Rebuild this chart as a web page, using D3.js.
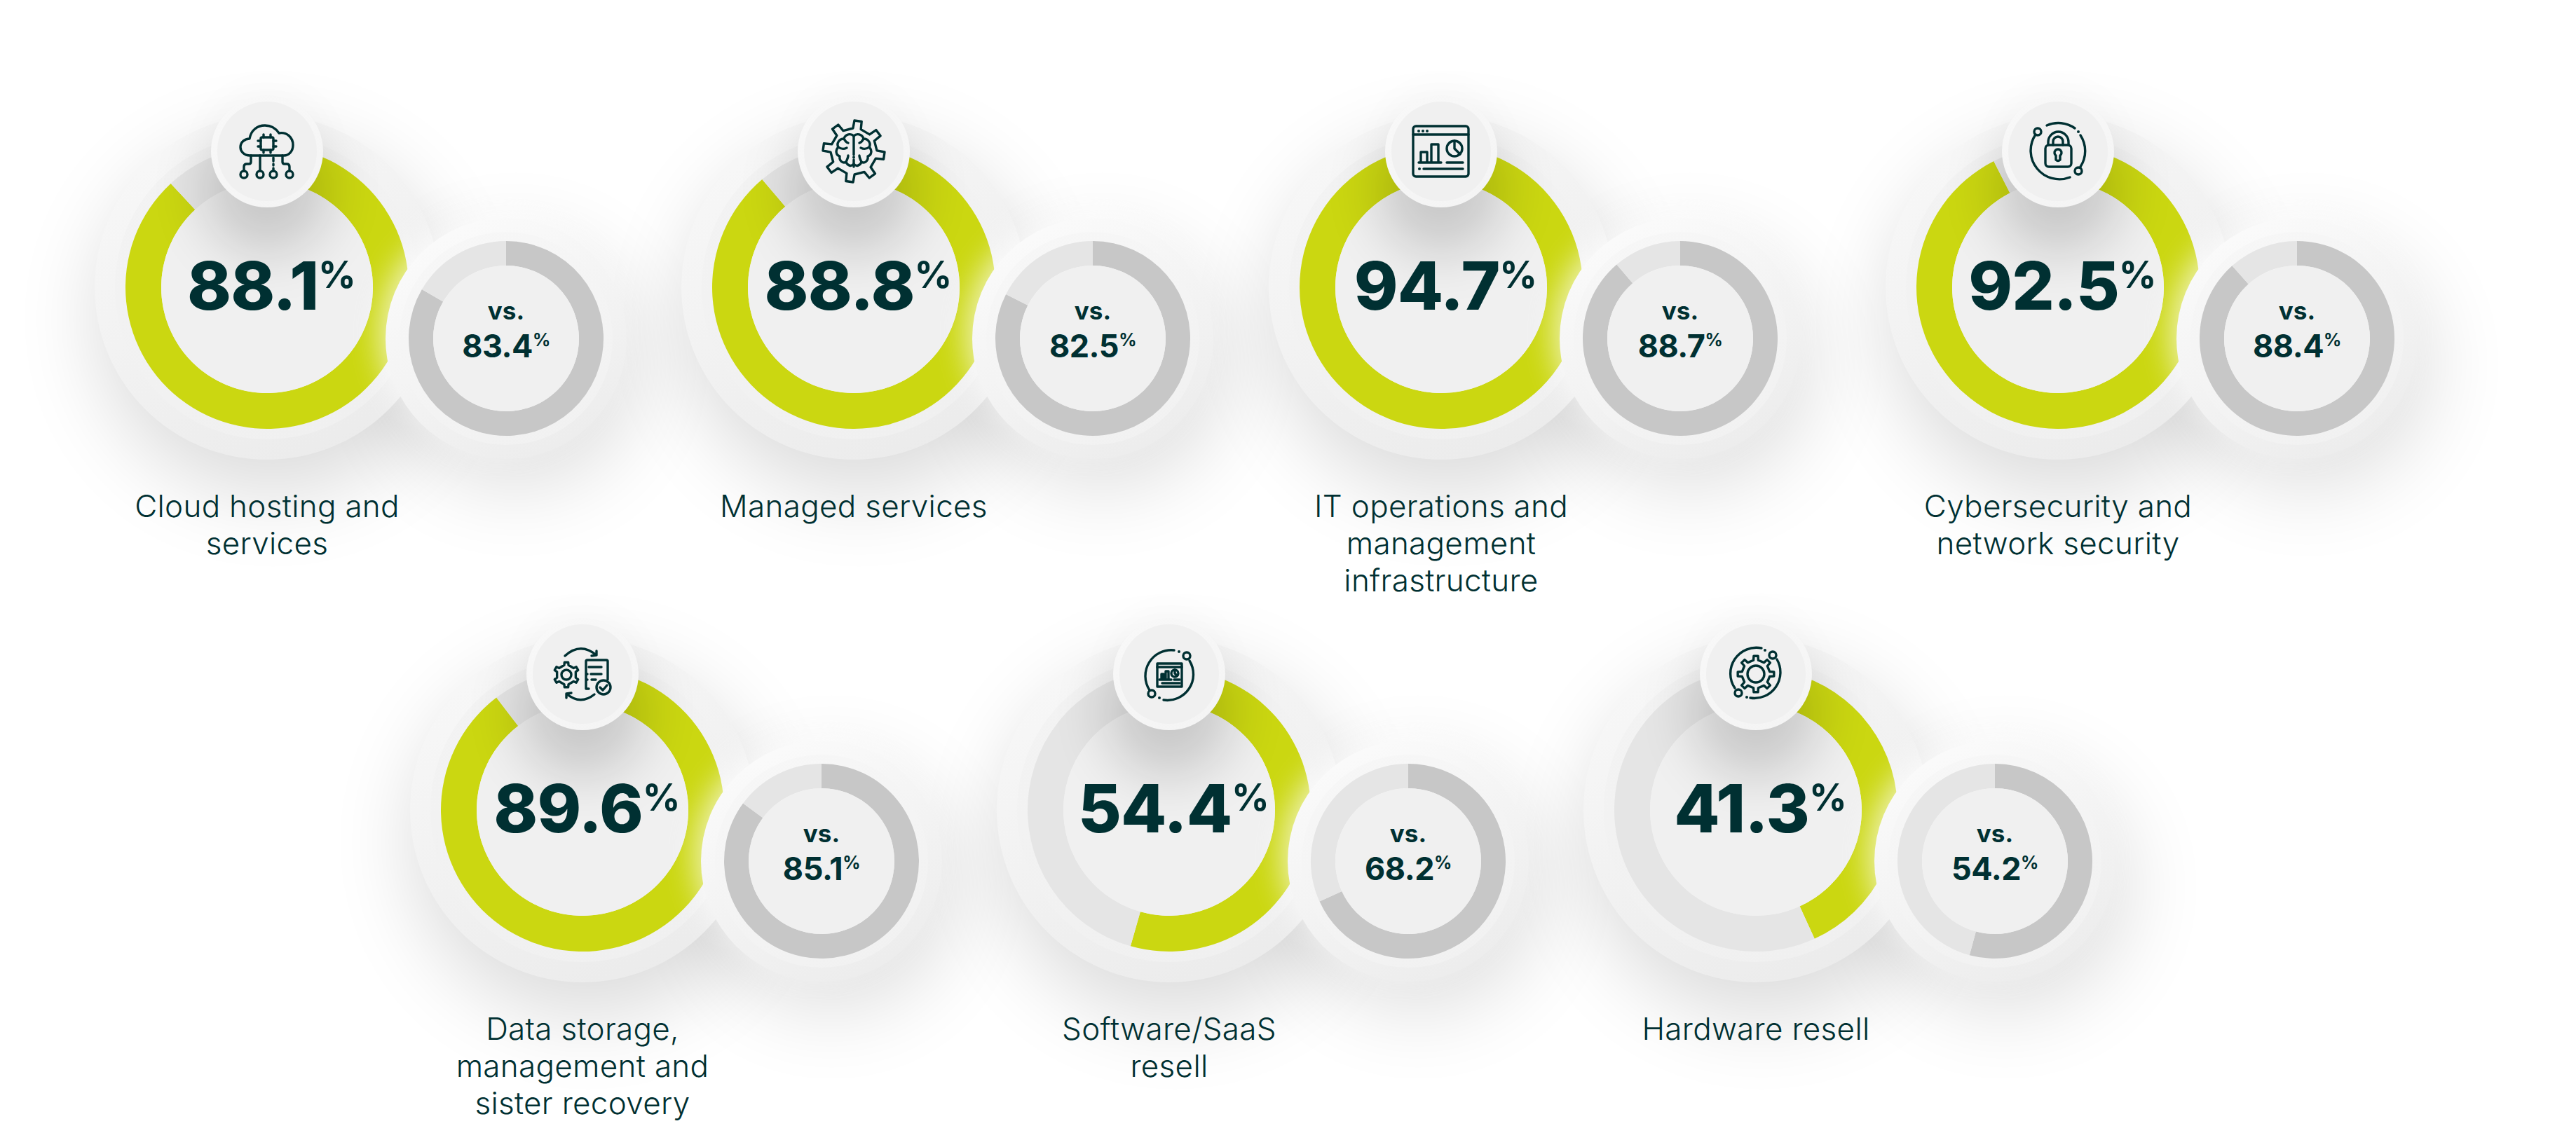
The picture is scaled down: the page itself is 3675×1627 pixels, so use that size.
<!DOCTYPE html>
<html><head><meta charset="utf-8">
<script src="https://cdn.jsdelivr.net/npm/d3@7/dist/d3.min.js"></script>
<style>html,body{margin:0;padding:0;background:#fff;overflow:hidden}svg{display:block}text{font-family:Inter,sans-serif;fill:#003032}</style>
</head><body>
<script>
// ---- data ----
const categories = ["Cloud hosting and services","Managed services","IT operations and management infrastructure","Cybersecurity and network security","Data storage, management and sister recovery","Software/SaaS resell","Hardware resell"];
const labelLines = [["Cloud hosting and","services"],["Managed services"],["IT operations and","management","infrastructure"],["Cybersecurity and","network security"],["Data storage,","management and","sister recovery"],["Software/SaaS","resell"],["Hardware resell"]];
const mainValues = [88.1,88.8,94.7,92.5,89.6,54.4,41.3];
// the printed hardware figure (41.3) sits on an arc drawn to about 43.2 in the picture
const mainArcValues = [88.1,88.8,94.7,92.5,89.6,54.4,43.2];
const compareValues = [83.4,82.5,88.7,88.4,85.1,68.2,54.2];
const iconNames = ["cloud","brain","dash","lock","data","soft","hard"];
// ---- layout (not data) ----
const W=3675,H=1627;
const centersX=[381,1218,2056,2936,831,1668,2505];
const rowY=[410,410,410,410,1156,1156,1156];
const ink="#003032";

const svg=d3.select("body").append("svg").attr("width",W).attr("height",H).attr("viewBox",`0 0 ${W} ${H}`);
const defs=svg.append("defs");
function blur(id,s){defs.append("filter").attr("id",id).attr("x","-100%").attr("y","-100%").attr("width","300%").attr("height","300%")
  .append("feGaussianBlur").attr("stdDeviation",s);}
blur("b60",60);blur("b30",30);blur("b22",22);blur("b40",40);
function grad(id,a,b){const g=defs.append("linearGradient").attr("id",id).attr("x1",.25).attr("y1",0).attr("x2",.75).attr("y2",1);
  g.append("stop").attr("offset",0).attr("stop-color",a);g.append("stop").attr("offset",1).attr("stop-color",b);}
grad("hMain","#f8f8f8","#ebebeb");grad("rMain","#f3f3f3","#f0f0f0");
grad("hSmall","#fbfbfb","#ececec");grad("rSmall","#f7f7f7","#f1f1f1");
grad("hIcon","#f8f8f8","#f4f4f4");

const pie=d3.pie().sort(null).startAngle(0).endAngle(2*Math.PI);
const arcMain=d3.arc().innerRadius(151).outerRadius(202);
const arcSmall=d3.arc().innerRadius(104).outerRadius(139);

// soft cast shadows underneath everything
const shadowLayer=svg.append("g");
categories.forEach((c,i)=>{
  const x=centersX[i],y=rowY[i];
  shadowLayer.append("circle").attr("cx",x+8).attr("cy",y+45).attr("r",250).attr("fill","#000").attr("opacity",.14).attr("filter","url(#b60)");
  shadowLayer.append("circle").attr("cx",x+355).attr("cy",y+110).attr("r",175).attr("fill","#000").attr("opacity",.13).attr("filter","url(#b60)");
  shadowLayer.append("circle").attr("cx",x).attr("cy",y-190).attr("r",85).attr("fill","#000").attr("opacity",.03).attr("filter","url(#b30)");
});

function gearPath(n,ro,ri,w){
  let d="";const step=2*Math.PI/n;
  for(let k=0;k<n;k++){
    const a=k*step-Math.PI/2;
    const p=[[ri,a-step*(w+.07)],[ro,a-step*w],[ro,a+step*w],[ri,a+step*(w+.07)]];
    p.forEach((q,j)=>{d+=(k===0&&j===0?"M":"L")+(q[0]*Math.cos(q[1])).toFixed(2)+" "+(q[0]*Math.sin(q[1])).toFixed(2);});
  }
  return d+"Z";
}
const node=(g,x,y,r)=>g.append("circle").attr("cx",x).attr("cy",y).attr("r",r);
const dot=(g,x,y)=>g.append("circle").attr("cx",x).attr("cy",y).attr("r",2).attr("fill",ink).attr("stroke","none");
const P=(g,d)=>g.append("path").attr("d",d);
const icons={
 cloud(g){
  P(g,"M-24 6C-33 6-38 0-38-6C-38-13-32-18-25-18C-23-30-14-37-3-37C6-37 13-32 17-26C28-28 37-20 37-9C37 0 31 6 24 6Z");
  g.append("rect").attr("x",-9).attr("y",-20).attr("width",18).attr("height",18).attr("rx",2);
  P(g,"M-5-24V-20M5-24V-20M-5-2V2M5-2V2M-13-15H-9M-13-7H-9M9-15H13M9-7H13");
  P(g,"M-10 6V28M-23 6V15Q-23 18-26 18H-29Q-33 18-33 22V28M22 6V15Q22 18 25 18H28Q32 18 32 22V28M9 9V14M9 18V20M9 24V28");
  [-33,-10,9,32].forEach(x=>node(g,x,33,5));
 },
 brain(g){
  P(g,gearPath(8,44,33,.15)).attr("transform","rotate(8)");
  P(g,"M0-22V5M0 12V22");dot(g,0,8.5);
  P(g,"M0-22C-4-26-12-25-14-18C-21-18-25-11-22-6C-27-1-25 6-20 7C-21 14-15 18-11 15C-9 21-3 22 0 18");
  P(g,"M0-22C4-26 12-25 14-18C21-18 25-11 22-6C27-1 25 6 20 7C21 14 15 18 11 15C9 21 3 22 0 18");
  P(g,"M-14-18C-12-14-11-13-8-12M14-18C12-14 11-13 8-12M-22-6C-18-3-14-3-10-5M22-6C18-3 14-3 10-5M-11 15C-9 11-8 9-8 6M11 15C9 11 8 9 8 6");
 },
 dash(g){
  g.append("rect").attr("x",-40).attr("y",-36).attr("width",79).attr("height",72).attr("rx",4);
  P(g,"M-40-24H39");[-32,-26,-20].forEach(x=>dot(g,x,-29));
  P(g,"M-29 15V1H-20V15M-14 15V-10H-4V15M-32 16H0M8 16H31M-25 25H31");dot(g,-31,25);
  node(g,19,-4,11);P(g,"M19-15V-4L27 4");
 },
 lock(g){
  g.append("rect").attr("x",-18).attr("y",-9).attr("width",37).attr("height",31).attr("rx",5);
  P(g,"M-14-9V-13A14.500 15 0 0 1 15-13V-9M-7-9V-14A7 7 0 0 1 7-14V-9");
  P(g,"M-3 6A5 5 0 1 1 3 6V12Q0 15-3 12Z");
  P(g,"M17 37A41 41 0 0 1-32-24");node(g,-29,-28,5);
  P(g,"M-16-37A41 41 0 0 1 24-33");dot(g,29,-28);
  P(g,"M32-23A41 41 0 0 1 32 22");node(g,29,28,5);
 },
 data(g){
  const ge=g.append("g").attr("transform","translate(-23,1)");
  P(ge,gearPath(6,18,14,.14));node(ge,0,0,7);
  P(g,"M9 21H5V-18Q5-20 7-20H34Q36-20 36-18V8");
  P(g,"M9-10H27M12 0H27M13 8H19M6 0H7M6 8H7");
  node(g,30,19,10);P(g,"M25 19L29 23L35 16");
  P(g,"M-25-26Q-3-46 20-27M20-27L20-33M20-27L13-26");
  P(g,"M17 29Q-3 45-23 28M-23 28L-23 34M-23 28L-16 27");
 },
 soft(g){
  P(g,"M7-34A37 37 0 0 0-28 23");node(g,-25,28,5);node(g,25,-26,5);
  P(g,"M29-19A37 37 0 0 1-8 37");dot(g,14,-32);dot(g,-14,34);
  g.append("rect").attr("x",-17).attr("y",-15).attr("width",35).attr("height",33);
  P(g,"M-17-10H18M-11 7V0H-8V7M-5 7V-4H-1V7M-14 8H3M7 8H15M-10 13H15");
  node(g,8,-1,5);P(g,"M8-6V-1L11 2");
 },
 hard(g){
  P(g,gearPath(8,26,20,.15));node(g,0,0,12);
  P(g,"M8-37A37 37 0 0 0-30 20");node(g,-25,27,5);node(g,24,-27,5);
  P(g,"M30-21A37 37 0 0 1-8 34");dot(g,13,-34);dot(g,-13,33);
 }
};

categories.forEach((c,i)=>{
  const x=centersX[i],y=rowY[i],xs=x+341,ys=y+73,xi=x,yi=y-194;
  const g=svg.append("g").attr("class","item");
  const cid="clip"+i;
  defs.append("clipPath").attr("id",cid).append("circle").attr("cx",x).attr("cy",y).attr("r",246);
  // main gauge
  const m=g.append("g").attr("transform",`translate(${x},${y})`);
  m.append("circle").attr("r",246).attr("fill","url(#hMain)");
  m.append("circle").attr("r",217).attr("fill","url(#rMain)");
  m.selectAll("path").data(pie([mainArcValues[i],100-mainArcValues[i]])).join("path")
    .attr("d",arcMain).attr("fill",(d,j)=>j?"#e5e5e5":"#cbd711");
  m.append("circle").attr("r",151).attr("fill","#f0f0f0");
  // icon shadow onto the main gauge
  g.append("g").attr("clip-path",`url(#${cid})`).append("circle").attr("cx",xi).attr("cy",yi+55).attr("r",90)
    .attr("fill","#000").attr("opacity",.17).attr("filter","url(#b40)");
  // glow of comparison gauge
  g.append("circle").attr("cx",xs-12).attr("cy",ys-8).attr("r",168).attr("fill","#fff").attr("opacity",.7).attr("filter","url(#b22)");
  const s=g.append("g").attr("transform",`translate(${xs},${ys})`);
  s.append("circle").attr("r",172).attr("fill","url(#hSmall)");
  s.append("circle").attr("r",152).attr("fill","url(#rSmall)");
  s.selectAll("path").data(pie([compareValues[i],100-compareValues[i]])).join("path")
    .attr("d",arcSmall).attr("fill",(d,j)=>j?"#e5e5e5":"#c7c7c7");
  s.append("circle").attr("r",104).attr("fill","#f0f0f0");
  // icon badge
  const b=g.append("g").attr("transform",`translate(${xi},${yi})`);
  b.append("circle").attr("r",80).attr("fill","url(#hIcon)");
  b.append("circle").attr("r",71).attr("fill","#f0f0f0");
  const ic=b.append("g").attr("fill","none").attr("stroke",ink).attr("stroke-width",3.4).attr("stroke-linecap","round").attr("stroke-linejoin","round");
  icons[iconNames[i]](ic);
  // main value
  const t=g.append("text").attr("x",x+6).attr("y",y+32).attr("text-anchor","middle").attr("font-weight",800).attr("font-size",95).attr("letter-spacing",-1);
  t.append("tspan").text(mainValues[i].toFixed(1));
  t.append("tspan").attr("font-size",53).attr("font-weight",700).attr("dy",-31).attr("dx",0).text("%");
  // comparison value
  g.append("text").attr("x",xs).attr("y",ys-27).attr("text-anchor","middle").attr("font-weight",700).attr("font-size",35).text("vs.");
  const t2=g.append("text").attr("x",xs).attr("y",ys+27).attr("text-anchor","middle").attr("font-weight",700).attr("font-size",45).attr("letter-spacing",-.5);
  t2.append("tspan").text(compareValues[i].toFixed(1));
  t2.append("tspan").attr("font-size",25).attr("dy",-16).attr("dx",0).text("%");
  // label
  labelLines[i].forEach((ln,k)=>{
    g.append("text").attr("x",x).attr("y",y+328+k*53).attr("text-anchor","middle").attr("font-weight",300).attr("font-size",44).attr("letter-spacing",.3).text(ln);
  });
});
</script>
</body></html>
